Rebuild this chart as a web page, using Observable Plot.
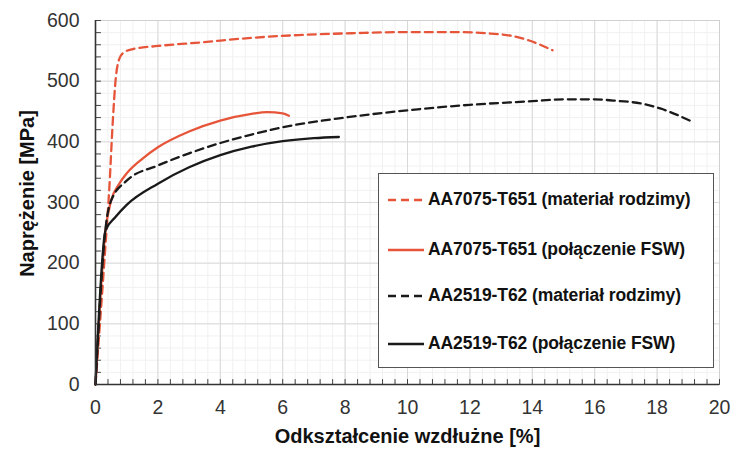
<!DOCTYPE html>
<html>
<head>
<meta charset="utf-8">
<script src="https://cdn.jsdelivr.net/npm/d3@7"></script>
<script src="https://cdn.jsdelivr.net/npm/@observablehq/plot@0.6"></script>
<style>
  html, body { margin: 0; padding: 0; background: #fff; }
  #wrap { position: relative; width: 743px; height: 452px; font-family: "Liberation Sans", Arial, sans-serif; }
  #legend { position: absolute; left: 378px; top: 173px; width: 336px; height: 195px; border: 1.5px solid #555; background: #fff; box-sizing: border-box; }
  .item { position: absolute; left: 9px; display: flex; align-items: center; font-weight: bold; font-size: 17.5px; color: #111; white-space: nowrap; letter-spacing: -0.1px; }
  .item svg { margin-right: 4px; }
</style>
</head>
<body>
<div id="wrap"></div>
<script>
// Data (strain [%], stress [MPa])
const seriesNames = [
  "AA7075-T651 (materiał rodzimy)",
  "AA7075-T651 (połączenie FSW)",
  "AA2519-T62 (materiał rodzimy)",
  "AA2519-T62 (połączenie FSW)"
];
const a7075MatX = [0, 0.3, 0.45, 0.55, 0.65, 0.75, 0.9, 1.2, 2, 3.4, 4.9, 6.5, 8.2, 10, 11.5, 12.5, 13.3, 13.9, 14.65];
const a7075MatY = [0, 215, 330, 430, 505, 535, 547, 553, 558, 564, 571, 576, 579, 581, 581, 579, 575, 567, 551];
const a7075FswX = [0, 0.32, 0.5, 0.75, 1, 1.5, 2, 3, 4, 5, 5.5, 6, 6.2];
const a7075FswY = [0, 254, 303, 330, 348, 372, 391, 417, 435, 446, 449, 447, 443];
const a2519MatX = [0, 0.34, 0.5, 1, 2, 3, 4, 5, 6, 8, 10, 12, 14, 15, 16, 16.6, 17.5, 18.1, 19.05];
const a2519MatY = [0, 265, 303, 336, 361, 381, 398, 412, 424, 440, 452, 461, 467, 470, 470, 468, 463, 455, 435];
const a2519FswX = [0, 0.32, 0.64, 1, 2, 3, 4, 5, 6, 7, 7.8];
const a2519FswY = [0, 254, 276, 296, 331, 358, 378, 392, 401, 406, 408];

const xTicks = [0, 2, 4, 6, 8, 10, 12, 14, 16, 18, 20];
const yTicks = [0, 100, 200, 300, 400, 500, 600];

const colors = ["#e6553a", "#e6553a", "#1a1a1a", "#1a1a1a"];
const dashes = ["8,5", null, "8,5", null];

const xs = [a7075MatX, a7075FswX, a2519MatX, a2519FswX];
const ys = [a7075MatY, a7075FswY, a2519MatY, a2519FswY];
const rows = [];
xs.forEach((arr, i) => arr.forEach((x, j) => rows.push({series: seriesNames[i], x, y: ys[i][j]})));

const xMinor = d3.range(0, 20.001, 0.4).map(v => +v.toFixed(2));
const yMinor = d3.range(0, 600.1, 20);

const spike = {draw(ctx, l) { ctx.moveTo(0, 0); ctx.lineTo(0, -l); }};

const lineMarks = seriesNames.map((s, i) => Plot.line(rows.filter(r => r.series === s), {
  x: "x", y: "y", stroke: colors[i], strokeWidth: 2.3, strokeDasharray: dashes[i], curve: "monotone-x"
}));

const chart = Plot.plot({
  width: 743,
  height: 452,
  marginLeft: 95,
  marginRight: 24,
  marginTop: 20,
  marginBottom: 68,
  style: {fontFamily: "'Liberation Sans', Arial, sans-serif", background: "#fff", color: "#333"},
  x: {domain: [0, 20]},
  y: {domain: [0, 600]},
  marks: [
    Plot.gridX(xMinor, {stroke: "#f1f1f1", strokeOpacity: 1}),
    Plot.gridY(yMinor, {stroke: "#f1f1f1", strokeOpacity: 1}),
    Plot.gridX(xTicks, {stroke: "#d9d9d9", strokeOpacity: 1}),
    Plot.gridY(yTicks, {stroke: "#d9d9d9", strokeOpacity: 1}),
    Plot.frame({stroke: "#d0d0d0"}),
    Plot.axisX(xTicks, {tickSize: 0, tickPadding: 16, fill: "#333",
      label: "Odkształcenie wzdłużne [%]", labelAnchor: "center", labelArrow: "none", labelOffset: 58}),
    Plot.axisY(yTicks, {tickSize: 0, tickPadding: 16, fill: "#333",
      label: "Naprężenie [MPa]", labelAnchor: "center", labelArrow: "none", labelOffset: 76}),
    Plot.vector(xMinor, {x: d => d, y: 0, length: 5, rotate: 0, anchor: "start", shape: spike, stroke: "#444", strokeWidth: 1}),
    Plot.vector(yMinor, {x: 0, y: d => d, length: 5, rotate: 90, anchor: "start", shape: spike, stroke: "#444", strokeWidth: 1}),
    ...lineMarks,
    Plot.ruleX([0], {stroke: "#333", strokeWidth: 1.6}),
    Plot.ruleY([0], {stroke: "#333", strokeWidth: 1.6})
  ]
});
const wrap = document.getElementById("wrap");
wrap.appendChild(chart);
chart.querySelectorAll('[aria-label="x-axis tick label"] text, [aria-label="y-axis tick label"] text').forEach(t => {
  t.style.fontSize = "19.5px";
  t.style.fill = "#333";
});
chart.querySelectorAll('[aria-label="x-axis label"] text, [aria-label="y-axis label"] text').forEach(t => {
  t.style.fontSize = "20px";
  t.style.fontWeight = "bold";
  t.style.fill = "#111";
});
const yl = chart.querySelector('[aria-label="y-axis label"]');
if (yl) yl.setAttribute("transform", (yl.getAttribute("transform") || "") + " translate(0,-9)");

// Legend
const legend = document.createElement("div");
legend.id = "legend";
const rowTops = [26, 76, 122, 170];
seriesNames.forEach((s, i) => {
  const it = document.createElement("div");
  it.className = "item";
  it.style.top = (rowTops[i] - 11) + "px";
  const sw = `<svg width="36" height="6"><line x1="0" y1="3" x2="36" y2="3" stroke="${colors[i]}" stroke-width="2.3" ${dashes[i] ? `stroke-dasharray="${dashes[i]}"` : ""}/></svg>`;
  it.innerHTML = sw + `<span>${s}</span>`;
  legend.appendChild(it);
});
wrap.appendChild(legend);
</script>
</body>
</html>
